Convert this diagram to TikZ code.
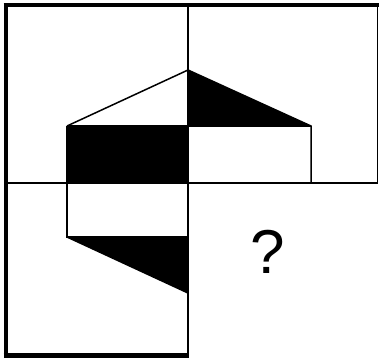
\documentclass[tikz,border=0pt]{standalone}
\usepackage{fontspec}
\setmainfont{Liberation Sans}
\begin{document}
\begin{tikzpicture}[x=1pt,y=-1pt,line join=miter,
  thin/.style={draw=black,line width=1.5pt},
  thick/.style={draw=black,line width=4.5pt},
  blk/.style={fill=black}]
\useasboundingbox (0,0) rectangle (379,362);
% figure corners
\coordinate (top) at (188,70);
\coordinate (lt) at (67,126);
\coordinate (rt) at (311,126);
\coordinate (mid) at (188,126);
\coordinate (lm) at (67,183);
\coordinate (lb) at (67,237);
\coordinate (cb) at (188,237);
\coordinate (tip) at (188,293);
% black parts
\fill[blk] (lt) rectangle (188,183);
\fill[blk] (top) -- (rt) -- (mid) -- cycle;
\fill[blk] (lb) -- (cb) -- (tip) -- cycle;
% outlines
\draw[thin] (lt) -- (top) -- (rt) -- (311,183);
\draw[thin] (lt) -- (lm) -- (lb) -- (cb);
\draw[thin] (lb) -- (tip);
\draw[thin] (lt) -- (rt);
% grid
\draw[thin] (188,5) -- (188,357);
\draw[thin] (6,183) -- (378,183);
\draw[thin] (377.5,5) -- (377.5,183.7);
\draw[thick] (3.5,5) -- (379,5);
\draw[thick] (5.75,3) -- (5.75,357.5);
\draw[thick] (3.5,355.25) -- (188.7,355.25);
\node (q) at (268,252) {\fontsize{62}{62}\selectfont ?};
\end{tikzpicture}
\end{document}
